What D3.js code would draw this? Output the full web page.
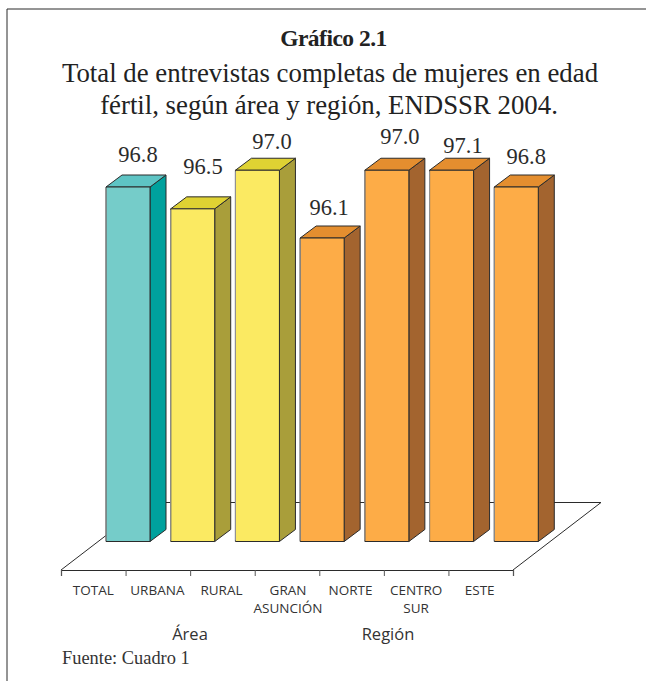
<!DOCTYPE html>
<html><head><meta charset="utf-8">
<script src="https://cdn.jsdelivr.net/npm/d3@7"></script>
<style>html,body{margin:0;padding:0;background:#fff}svg{display:block}</style>
</head><body><div id="c"></div>
<script>
const categories = ["TOTAL","URBANA","RURAL","GRAN ASUNCIÓN","NORTE","CENTRO SUR","ESTE"];
const labelLines = [["TOTAL"],["URBANA"],["RURAL"],["GRAN","ASUNCIÓN"],["NORTE"],["CENTRO","SUR"],["ESTE"]];
const valueLabels = ["96.8","96.5","97.0","96.1","97.0","97.1","96.8"];
const drawnValues = [96.8,96.5,97.03,96.1,97.03,97.03,96.8];
const groups = ["t","a","a","r","r","r","r"];
const labelNudgeX = [-4,-3.7,0.6,-7,-1,-2.6,-4];
const labelNudgeY = [0,-10,4,2,-1,8,2];
const catNudgeX = [0,-0.5,-1,1,-1,0,-1];

const W=646,H=681;
const svg=d3.select("#c").append("svg").attr("width",W).attr("height",H);
const serif="'Liberation Serif',serif", sans="'Open Sans','Noto Sans',sans-serif";
const ink="#2b2b2b";

// frame
svg.append("path").attr("d",d3.line()([[7,681],[7,9],[646,9]])).attr("fill","none").attr("stroke",ink).attr("stroke-width",1);

// titles
svg.append("text").attr("x",333.5).attr("y",46).attr("text-anchor","middle").attr("font-family",serif).attr("font-weight","bold").attr("font-size",23.5).attr("letter-spacing",-0.5).attr("fill","#222").text("Gráfico 2.1");
svg.append("text").attr("x",330).attr("y",82).attr("text-anchor","middle").attr("font-family",serif).attr("font-size",26.8).attr("fill","#222").text("Total de entrevistas completas de mujeres en edad");
svg.append("text").attr("x",329).attr("y",114).attr("text-anchor","middle").attr("font-family",serif).attr("font-size",26.8).attr("fill","#222").text("fértil, según área y región, ENDSSR 2004.");

// scales
const floorY=570, depthX=16, depthY=12;
const xAxisScale=d3.scaleBand().domain(categories).range([61,513]);
const xBar=d3.scaleBand().domain(categories).range([106,559]);
const barW=44;
const y=d3.scaleLinear().domain([96.1,96.8]).range([238,187]);
const baseValue=y.invert(541.5);

const palette={t:{front:"#75CCC9",side:"#00A19D",top:"#5EC4C4"},
               a:{front:"#FBEA62",side:"#A99E3A",top:"#DFD233"},
               r:{front:"#FDAC47",side:"#A3642F",top:"#E48E2F"}};

// floor
const fl=d3.line();
svg.append("path").attr("d",fl([[61,floorY],[149,502.5],[601,502.5],[513,floorY]])).attr("fill","none").attr("stroke",ink).attr("stroke-width",1);

// axis
const edge=d3.scalePoint().domain(d3.range(categories.length+1)).range([61,513]);
const axis=svg.append("g").attr("transform",`translate(0,${floorY})`).call(d3.axisBottom(edge).tickSize(6).tickFormat(""));
axis.selectAll("line").attr("stroke","#555").attr("stroke-width",1);
axis.select(".domain").attr("stroke",ink).attr("stroke-width",1.2);

// bars
const bars=svg.selectAll("g.bar").data(categories).join("g").attr("class","bar");
bars.each(function(c,i){
  const g=d3.select(this),l=xBar(c),r=l+barW,t=y(drawnValues[i]),b=y(baseValue),p=palette[groups[i]];
  const base={stroke:"#2b2b2b","stroke-width":1,"stroke-linejoin":"round"};
  const add=(pts,fill)=>{const s=g.append("path").attr("d",fl(pts)+"Z").attr("fill",fill);Object.entries(base).forEach(([k,v])=>s.attr(k,v));};
  add([[r,t],[r+depthX,t-depthY],[r+depthX,b-depthY],[r,b]],p.side);
  add([[l,t],[l+depthX,t-depthY],[r+depthX,t-depthY],[r,t]],p.top);
  add([[l,t],[r,t],[r,b],[l,b]],p.front);
  g.append("line").attr("x1",l).attr("x2",l).attr("y1",t+1).attr("y2",b-1).attr("stroke","#999").attr("stroke-width",1);
  g.append("text").attr("x",(l+r)/2+depthX/2+labelNudgeX[i]+6).attr("y",t-depthY-13+labelNudgeY[i])
    .attr("text-anchor","middle").attr("font-family",serif).attr("font-size",22.5).attr("fill","#2b2b2b").text(valueLabels[i]);
});

// category labels
categories.forEach((c,i)=>{
  const cx=xAxisScale(c)+xAxisScale.bandwidth()/2+catNudgeX[i];
  labelLines[i].forEach((t,j)=>{
    svg.append("text").attr("x",cx).attr("y",595+j*17.5).attr("text-anchor","middle")
      .attr("font-family",sans).attr("font-size",13.5).attr("fill","#333").text(t);
  });
});
svg.append("text").attr("x",190).attr("y",640).attr("text-anchor","middle").attr("font-family",sans).attr("font-size",16.5).attr("fill","#333").text("Área");
svg.append("text").attr("x",388).attr("y",640).attr("text-anchor","middle").attr("font-family",sans).attr("font-size",16.5).attr("fill","#333").text("Región");
svg.append("text").attr("x",62).attr("y",664).attr("font-family",serif).attr("font-size",18.4).attr("fill","#333").text("Fuente: Cuadro 1");
</script></body></html>
